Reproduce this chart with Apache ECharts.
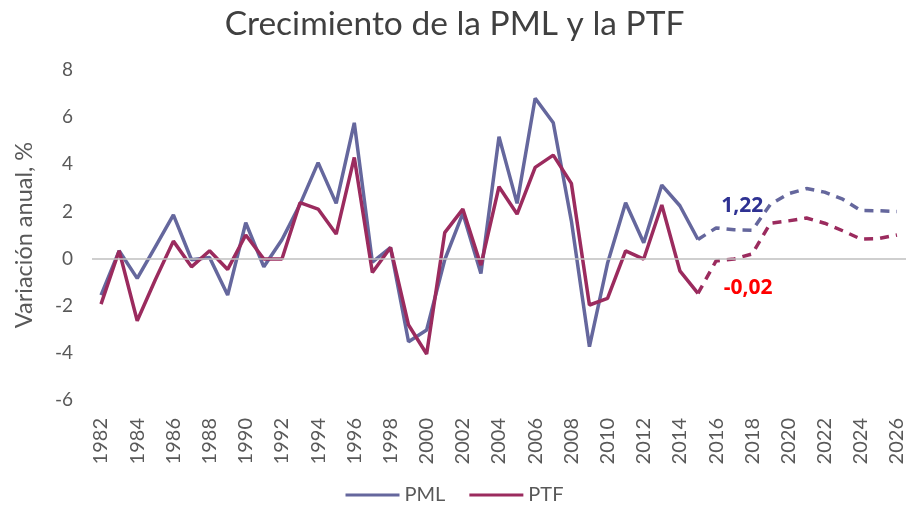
<!DOCTYPE html>
<html>
<head>
<meta charset="utf-8">
<script src="https://cdn.jsdelivr.net/npm/echarts@6/dist/echarts.min.js"></script>
<style>
  html, body { margin: 0; padding: 0; background: #fff; }
  #main { width: 909px; height: 514px; }
</style>
</head>
<body>
<div id="main"></div>
<script>
// datos
var years = [];
for (var y = 1982; y <= 2026; y++) years.push(String(y));

var pml = [-1.55, 0.33, -0.84, 0.5, 1.85, -0.05, 0.05, -1.55, 1.52, -0.35,
           0.8, 2.3, 4.07, 2.34, 5.76, -0.15, 0.47, -3.53, -3.03, -0.05,
           1.92, -0.63, 5.17, 2.34, 6.8, 5.76, 1.6, -3.74, -0.2, 2.37,
           0.67, 3.12, 2.24, 0.81];
var ptf = [-1.93, 0.33, -2.64, -0.9, 0.74, -0.35, 0.33, -0.46, 1.0, -0.02,
           -0.02, 2.37, 2.1, 1.04, 4.29, -0.59, 0.47, -2.82, -4.05, 1.1,
           2.1, -0.28, 3.05, 1.89, 3.87, 4.39, 3.19, -1.97, -1.69, 0.33,
           -0.02, 2.27, -0.52, -1.48];
// proyecciones 2015-2026
var pmlProy = [0.81, 1.3, 1.22, 1.2, 2.3, 2.75, 2.97, 2.82, 2.52, 2.04, 2.03, 2.0];
var ptfProy = [-1.48, -0.1, -0.02, 0.2, 1.5, 1.6, 1.72, 1.5, 1.18, 0.83, 0.85, 1.0];
var yTicks = [-6, -4, -2, 0, 2, 4, 6, 8];
var anioEtiqueta = '2017';

var colPML = '#65679d';
var colPTF = '#9b2b5e';
var nHist = pml.length;

function histo(arr) {
    return years.map(function (d, i) { return i < nHist ? arr[i] : null; });
}
function proy(arr) {
    var start = nHist - 1;
    return years.map(function (d, i) { return i >= start ? arr[i - start] : null; });
}
function valorEn(arr, anio) {
    return arr[years.indexOf(anio) - (nHist - 1)];
}
function etiqueta(arr, color, offY, offX) {
    var v = valorEn(arr, anioEtiqueta);
    return {
        symbol: 'circle', symbolSize: 0, itemStyle: { color: 'rgba(0,0,0,0)' },
        label: {
            show: true, position: 'inside', offset: [offX, offY],
            fontFamily: 'Open Sans', fontWeight: 'bold', fontSize: 21, color: color,
            formatter: function () { return String(v).replace('.', ','); }
        },
        data: [{ coord: [anioEtiqueta, v], value: v }]
    };
}

var myChart = echarts.init(document.getElementById('main'));
var option = {
    animation: false,
    title: {
        text: 'Crecimiento de la PML y la PTF',
        left: 'center',
        top: 2,
        textStyle: { fontFamily: 'Lato', fontSize: 33.5, fontWeight: 'normal', color: '#404040' }
    },
    legend: {
        data: ['PML', 'PTF'],
        bottom: 4,
        left: 'center',
        icon: 'rect',
        itemWidth: 54,
        itemHeight: 3,
        itemGap: 24,
        textStyle: { fontFamily: 'Lato', fontSize: 20, color: '#595959' }
    },
    grid: { left: 92, right: 3, top: 70, bottom: 114 },
    xAxis: {
        type: 'category',
        data: years,
        boundaryGap: true,
        axisLine: { show: false },
        axisTick: { show: false },
        axisLabel: {
            interval: 1,
            rotate: 90,
            margin: 18,
            fontFamily: 'Lato',
            fontSize: 20,
            color: '#595959'
        }
    },
    yAxis: {
        type: 'value',
        min: yTicks[0],
        max: yTicks[yTicks.length - 1],
        interval: 2,
        name: 'Variación anual, %',
        nameLocation: 'middle',
        nameGap: 56,
        nameTextStyle: { fontFamily: 'Lato', fontSize: 23.5, color: '#595959' },
        axisLine: { show: false },
        axisTick: { show: false },
        splitLine: { show: false },
        axisLabel: { fontFamily: 'Lato', fontSize: 19, color: '#595959', margin: 19 }
    },
    series: [
        {
            name: 'PML', type: 'line', data: histo(pml),
            symbol: 'none', color: colPML,
            lineStyle: { width: 3.5, color: colPML },
            markLine: {
                silent: true, symbol: 'none', label: { show: false },
                lineStyle: { color: '#bfbfbf', type: 'solid', width: 1.5 },
                data: [{ yAxis: 0 }]
            },
            z: 3
        },
        {
            name: 'PTF', type: 'line', data: histo(ptf),
            symbol: 'none', color: colPTF,
            lineStyle: { width: 3.5, color: colPTF },
            z: 4
        },
        {
            name: 'PML proy', type: 'line', data: proy(pmlProy),
            symbol: 'none', color: colPML,
            lineStyle: { width: 3.5, color: colPML, type: [9, 7] },
            markPoint: etiqueta(pmlProy, '#2e3192', -24, 8),
            z: 3
        },
        {
            name: 'PTF proy', type: 'line', data: proy(ptfProy),
            symbol: 'none', color: colPTF,
            lineStyle: { width: 3.5, color: colPTF, type: [9, 7] },
            markPoint: etiqueta(ptfProy, '#ff0000', 29, 14),
            z: 4
        }
    ]
};
myChart.setOption(option);
</script>
</body>
</html>
